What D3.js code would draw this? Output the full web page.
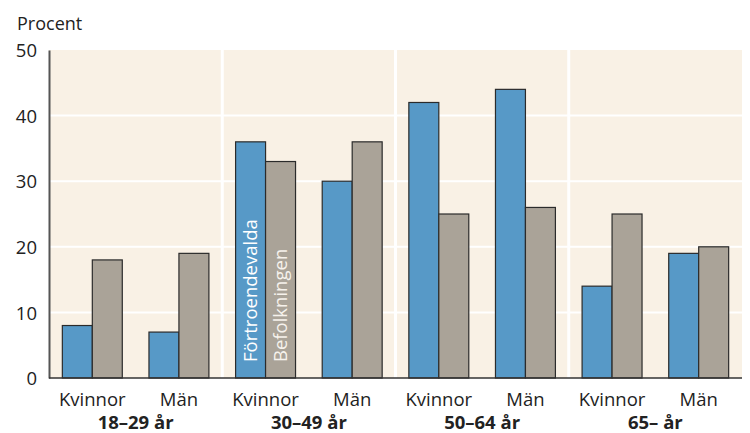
<!DOCTYPE html>
<html><head><meta charset="utf-8">
<script src="https://cdn.jsdelivr.net/npm/d3@7"></script>
<style>body{margin:0;background:#fff}svg{display:block}text{font-family:"Open Sans","Noto Sans",sans-serif}</style>
</head><body><svg id="c" width="750" height="433"></svg>
<script>
const groups = ["18–29 år","30–49 år","50–64 år","65– år"];
const sexes = ["Kvinnor","Män"];
const fortroendevalda = [8,7,36,30,42,44,14,19];
const befolkningen = [18,19,33,36,25,26,25,20];
const yTicks = [0,10,20,30,40,50];
const seriesNames = ["Förtroendevalda","Befolkningen"];

const svg = d3.select("#c");
const L=49, R=742, T=50, B=378;
const cats = [];
groups.forEach((g,gi)=>sexes.forEach((s,si)=>cats.push({g,gi,s,key:gi+"-"+si})));
const x = d3.scaleBand().domain(cats.map(c=>c.key)).range([L,R]);
const xg = d3.scaleBand().domain(groups).range([L,R]);
const y = d3.scaleLinear().domain([0,50]).range([B,T]);

svg.append("rect").attr("x",L).attr("y",T).attr("width",R-L).attr("height",B-T).attr("fill","#f9f1e5");
svg.append("g").selectAll("line").data(yTicks.filter(t=>t>0&&t<50)).join("line")
 .attr("x1",L).attr("x2",R).attr("y1",d=>y(d)).attr("y2",d=>y(d)).attr("stroke","#fff").attr("stroke-width",2);
svg.append("g").selectAll("line").data(groups.slice(1)).join("line")
 .attr("x1",d=>xg(d)).attr("x2",d=>xg(d)).attr("y1",T).attr("y2",B).attr("stroke","#fff").attr("stroke-width",3);

const bw = x.bandwidth()*0.346;
const colors = ["#5799c7","#aaa398"];
[fortroendevalda,befolkningen].forEach((vals,si)=>{
  svg.append("g").selectAll("rect").data(cats).join("rect")
   .attr("x",(d)=>x(d.key)+x.bandwidth()/2 - bw + si*bw)
   .attr("width",bw)
   .attr("y",(d,i)=>y(vals[i]))
   .attr("height",(d,i)=>B-y(vals[i]))
   .attr("fill",colors[si]).attr("stroke","#2b2b2b").attr("stroke-width",1.2);
});

// series labels inside bars
seriesNames.forEach((n,si)=>{
  const cx = x(cats[2].key)+x.bandwidth()/2 - bw + si*bw + bw/2;
  svg.append("text").attr("transform",`translate(${cx+6.5},${B-16}) rotate(-90)`)
   .attr("fill", si===0 ? "#fff" : "#f6f2ec").attr("font-size",18.5).text(n);
});

// axes
const ya = d3.axisLeft(y).tickValues(yTicks).tickSize(0).tickPadding(12);
const gy = svg.append("g").attr("transform",`translate(${L},0)`).call(ya);
gy.select(".domain").attr("stroke","#555").attr("stroke-width",2);
gy.selectAll("text").attr("font-size",18.5).attr("fill","#222").attr("dy","0.36em").attr("font-family","Open Sans");
svg.append("line").attr("x1",L).attr("x2",R).attr("y1",B).attr("y2",B).attr("stroke","#333").attr("stroke-width",1.5);

svg.append("text").attr("x",17).attr("y",30).attr("font-size",18).attr("fill","#222").text("Procent");

svg.append("g").selectAll("text").data(cats).join("text")
 .attr("x",d=>x(d.key)+x.bandwidth()/2).attr("y",406).attr("text-anchor","middle")
 .attr("font-size",18.5).attr("fill","#222").text(d=>d.s);
svg.append("g").selectAll("text").data(groups).join("text")
 .attr("x",d=>xg(d)+xg.bandwidth()/2).attr("y",429).attr("text-anchor","middle")
 .attr("font-size",18.5).attr("font-weight","bold").attr("fill","#222").text(d=>d);
</script></body></html>
